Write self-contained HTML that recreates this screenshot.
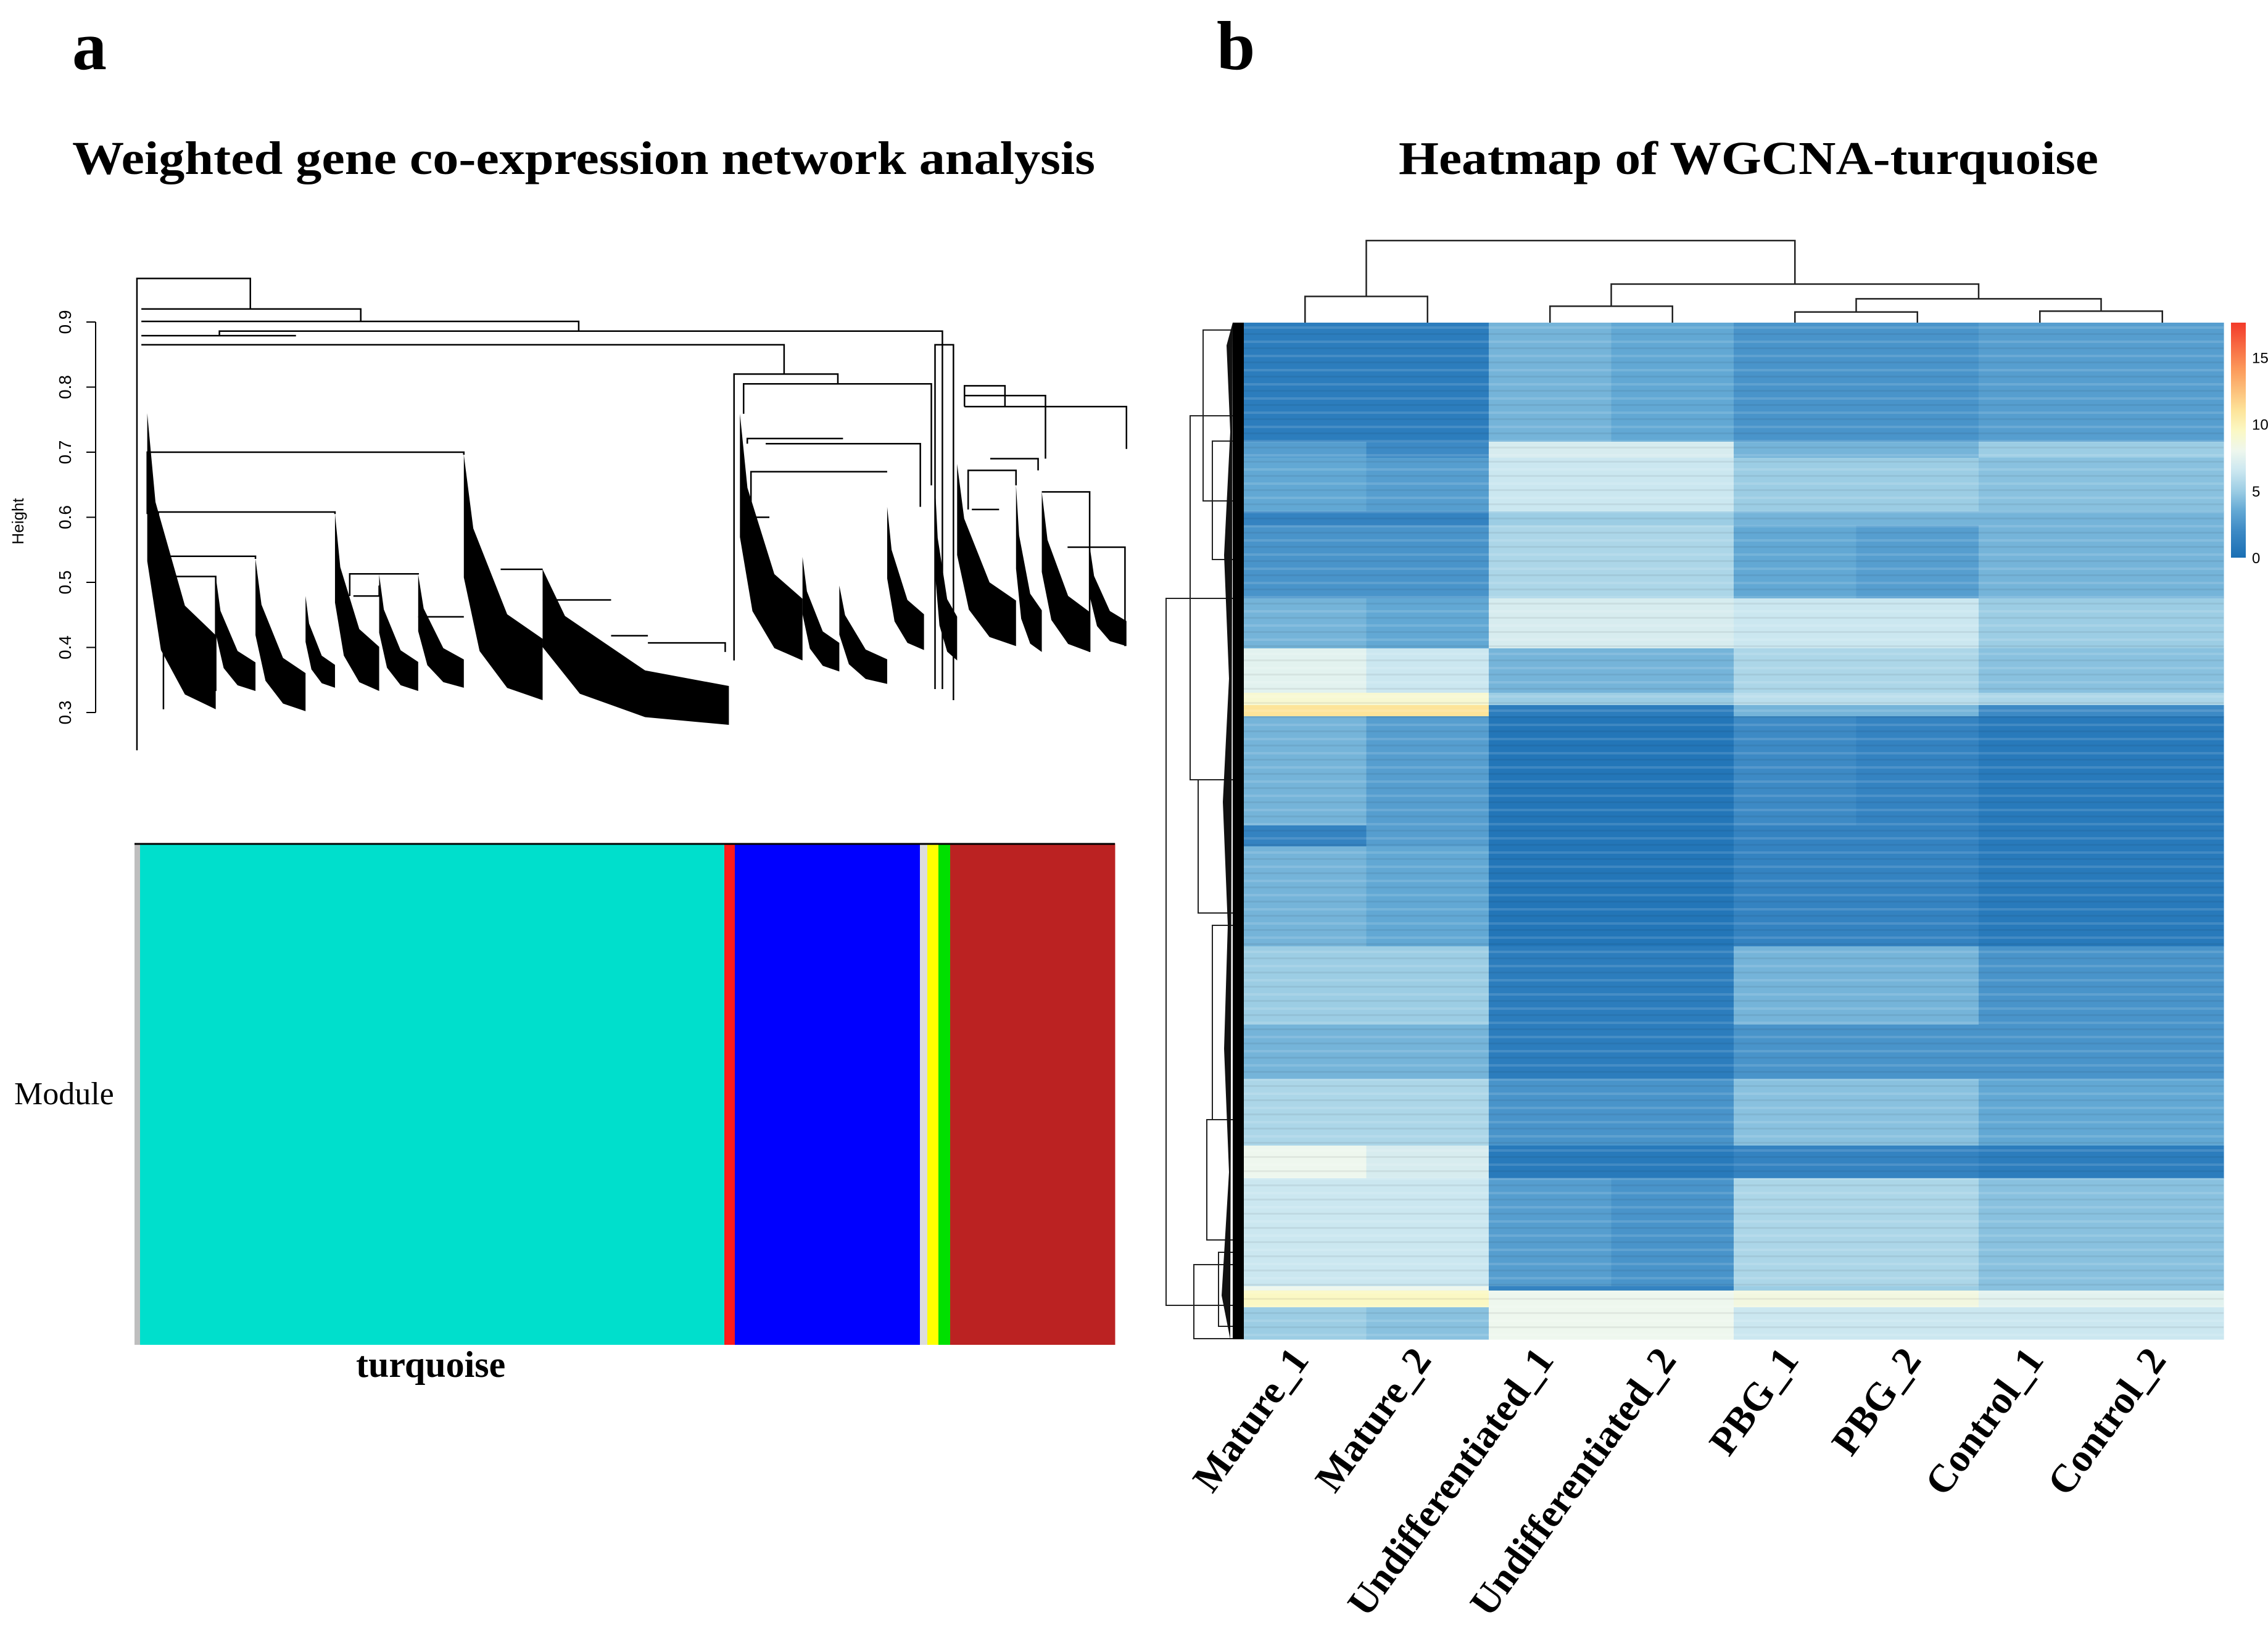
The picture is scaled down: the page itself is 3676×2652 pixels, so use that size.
<!DOCTYPE html>
<html><head><meta charset="utf-8"><style>
html,body{margin:0;padding:0;background:#fff;}
svg{display:block;}
text{font-family:"Liberation Serif",serif;}
.sans{font-family:"Liberation Sans",sans-serif;}
</style></head><body>
<svg id="fig" width="3676" height="2652" viewBox="0 0 3676 2652" xmlns="http://www.w3.org/2000/svg">
<rect width="3676" height="2652" fill="#fff"/>
<text x="117" y="112" font-size="112" font-weight="bold">a</text>
<text x="1972" y="112" font-size="112" font-weight="bold">b</text>
<text x="117" y="282" font-size="76" font-weight="bold" textLength="1658" lengthAdjust="spacingAndGlyphs">Weighted gene co-expression network analysis</text>
<text x="2267" y="282" font-size="76" font-weight="bold" textLength="1134" lengthAdjust="spacingAndGlyphs">Heatmap of WGCNA-turquoise</text>
<g id="dendroA"></g>
<g id="yaxisA"></g>
<g id="modules"></g>
<text x="23" y="1790" font-size="52">Module</text>
<text x="577" y="2232" font-size="60" font-weight="bold">turquoise</text>
<g id="heat"></g>
<g id="coldend"></g>
<g id="rowdend"></g>
<g id="cbar"></g>
<g id="xlabels"></g>
</svg>
<script>
const NS="http://www.w3.org/2000/svg";
const heightTicks=[0.3,0.4,0.5,0.6,0.7,0.8,0.9];
const mergeLeft=[186,192,192,298,192,192,997,1010,1270,1310,1310,1310,200,215,220,222,475,480,568,680,737,830,880,1015,1040,1020,1020,1345,1315,1415,1320,1450];
const mergeRight=[340,490,786,1280,402,1065,1138,1265,1295,1365,1420,1530,630,455,347,293,568,515,630,737,830,880,985,1145,1250,1205,1045,1410,1380,1480,1357,1528];
const mergeH=[0.967,0.920,0.901,0.886,0.879,0.865,0.820,0.805,0.865,0.802,0.787,0.770,0.700,0.608,0.540,0.509,0.513,0.479,0.447,0.520,0.473,0.418,0.407,0.721,0.713,0.670,0.600,0.690,0.672,0.639,0.612,0.554];
const mergeLowL=[0.242,0.920,0.901,0.879,0.879,0.865,0.380,0.759,0.336,0.787,0.770,0.770,0.605,0.540,0.509,0.305,0.479,0.479,0.447,0.520,0.473,0.418,0.407,0.713,0.713,0.600,0.600,0.690,0.612,0.639,0.612,0.554];
const mergeLowR=[0.920,0.901,0.886,0.336,0.879,0.820,0.805,0.649,0.319,0.770,0.690,0.705,0.696,0.605,0.536,0.333,0.512,0.495,0.447,0.520,0.473,0.418,0.393,0.721,0.616,0.670,0.600,0.672,0.649,0.393,0.612,0.402];
const fanStart=[200,293,347,415,455,515,568,630,737,1005,1090,1140,1205,1270,1300,1380,1415,1480];
const fanEnd=[293,347,415,455,515,568,630,737,990,1090,1140,1205,1255,1300,1380,1415,1480,1530];
const fanTop=[0.760,0.509,0.536,0.479,0.605,0.512,0.512,0.696,0.520,0.759,0.539,0.495,0.616,0.649,0.682,0.649,0.639,0.556];
const fanBottom=[0.305,0.333,0.302,0.338,0.333,0.333,0.338,0.319,0.281,0.380,0.363,0.344,0.396,0.380,0.402,0.393,0.393,0.402];
const moduleColors=["#bebebe","#00dfcc","#ff1a1a","#0000ff","#dcdcdc","#ffff00","#00e000","#bb2222"];
const moduleSizes=[9,947,17,300,12,18,19,267];

function yA(h){return 522+(0.9-h)*1055;}
function xA(u){return u/0.838;}
function mk(tag,attrs,parent){const e=document.createElementNS(NS,tag);for(const k in attrs)e.setAttribute(k,attrs[k]);parent.appendChild(e);return e;}

const dA=document.getElementById('dendroA');
for(let i=0;i<mergeLeft.length;i++){
  const x1=xA(mergeLeft[i]),x2=xA(mergeRight[i]),y=yA(mergeH[i]);
  const p=mk('path',{d:`M${x1},${yA(mergeLowL[i])}V${y}H${x2}V${yA(mergeLowR[i])}`,fill:'none',stroke:'#000','stroke-width':2.5},dA);
  
  
}
for(let i=0;i<fanStart.length;i++){
  const x0=xA(fanStart[i]),x1=xA(fanEnd[i]),t=yA(fanTop[i]),b=yA(fanBottom[i]),w=x1-x0,hh=b-t;
  const pts=[[x0,t],[x0+w*0.12,t+hh*0.3],[x0+w*0.55,t+hh*0.65],[x1,b-hh*0.25],[x1,b],[x0+w*0.55,b-hh*0.05],[x0+w*0.2,t+hh*0.8],[x0,t+hh*0.5]];
  const p=mk('polygon',{points:pts.map(q=>q.join(',')).join(' '),fill:'#000'},dA);
  
  
}
const ya=document.getElementById('yaxisA');
mk('line',{x1:155,y1:yA(0.3),x2:155,y2:yA(0.9),stroke:'#000','stroke-width':2},ya);
heightTicks.forEach(h=>{
  mk('line',{x1:140,y1:yA(h),x2:155,y2:yA(h),stroke:'#000','stroke-width':2},ya);
  const t=mk('text',{x:0,y:0,'font-size':28,'text-anchor':'middle',class:'sans',transform:`translate(115,${yA(h)}) rotate(-90)`},ya);
  t.textContent=h.toFixed(1);
  
  
});
const ht=mk('text',{'font-size':26,'text-anchor':'middle',class:'sans',transform:'translate(38,845) rotate(-90)'},ya);
ht.textContent='Height';



const mg=document.getElementById('modules');
const totalGenes=moduleSizes.reduce((a,b)=>a+b,0);
let cx=218;const mW=1807-218;
moduleSizes.forEach((s,i)=>{
  const w=s/totalGenes*mW;
  const r=mk('rect',{x:cx,y:1367,width:w+0.5,height:813,fill:moduleColors[i]},mg);
  
  
  cx+=w;
});
mk('line',{x1:218,y1:1368,x2:1807,y2:1368,stroke:'#000','stroke-width':3},mg);

const samples=["Mature_1","Mature_2","Undifferentiated_1","Undifferentiated_2","PBG_1","PBG_2","Control_1","Control_2"];
const blockGenes=[193,26,87,23,118,81,72,20,18,177,34,162,127,88,108,53,175,7,27,52];
const mature1=[1,3,3.5,1.5,2.5,4,7.5,9,11,4,1.5,4,5,4,5.5,8,6.5,8,9.5,5];
const mature2=[1,2,3,1.5,2.5,3.5,6.5,9,11,3,3,3.5,5,4,5.5,7,6.5,8,9.5,4.5];
const undiff1=[4,7,6.5,5,5.5,7,4,5,1,0.5,0.5,0.5,1,1,2.5,0.8,3,1.5,8,8];
const undiff2=[3.5,7,6.5,5,5.5,7,4,5,1,0.5,0.5,0.5,1,1,2.5,0.8,2.5,1.5,8,8];
const pbg1=[2.5,4,5,4,3.5,6.5,5.5,6,4,2,1.5,1.5,4,2.5,4.5,1.5,5.5,5,8.5,6.5];
const pbg2=[2.5,4,5,4,3,6.5,5.5,6,4,1.5,1.5,1.5,4,2.5,4.5,1.5,5.5,5,8.5,6.5];
const control1=[3,5,4.5,4,4,5,4.5,5.5,2,0.8,0.8,0.8,2.5,2.5,3.5,1,4.5,4.5,7.5,6.5];
const control2=[3,5,4.5,4,4,5,4.5,5.5,2,0.8,0.8,0.8,2.5,2.5,3.5,1,4.5,4.5,7.5,6.5];
const colorTicks=[0,5,10,15];
const colMergeL=[0,2,4,6,4.5,2.5,0.5];
const colMergeR=[1,3,5,7,6.5,5.5,4];
const colMergeH=[0.32,0.20,0.13,0.14,0.29,0.47,1.0];
const colMergeLowL=[0,0,0,0,0.13,0.20,0.32];
const colMergeLowR=[0,0,0,0,0.14,0.29,0.47];

const HX=2016,HW=1588,HY=523,HH=1648,VMAX=17.6;
const colW=HW/samples.length;
function colX(i){return HX+colW*(i+0.5);}
const stops=[[0,[26,111,180]],[2,[61,138,197]],[3.5,[98,168,212]],[5,[156,205,228]],[6.5,[203,231,240]],[8,[238,247,238]],[9.5,[251,248,196]],[11,[253,228,154]],[14,[252,156,92]],[17.6,[243,58,42]]];
function colorOf(v){
  for(let i=1;i<stops.length;i++){if(v<=stops[i][0]){const a=stops[i-1],b=stops[i],t=(v-a[0])/(b[0]-a[0]);return 'rgb('+a[1].map((c,k)=>Math.round(c+(b[1][k]-c)*t)).join(',')+')';}}
  return 'rgb(243,58,42)';
}
const cols=[mature1,mature2,undiff1,undiff2,pbg1,pbg2,control1,control2];
const totalRows=blockGenes.reduce((a,b)=>a+b,0);
function rowY(g){return HY+g/totalRows*HH;}
const hg=document.getElementById('heat');
let g0=0;
blockGenes.forEach((n,bi)=>{
  cols.forEach((arr,ci)=>{
    const r=mk('rect',{x:HX+ci*colW,y:rowY(g0),width:colW+0.6,height:rowY(g0+n)-rowY(g0)+0.6,fill:colorOf(arr[bi])},hg);
    
    
  });
  g0+=n;
});
const defs=mk('defs',{},document.getElementById('fig'));
const pat=mk('pattern',{id:'stripes',width:10,height:23,patternUnits:'userSpaceOnUse'},defs);
mk('rect',{x:0,y:0,width:10,height:4,fill:'#fff','fill-opacity':0.12},pat);
mk('rect',{x:0,y:11,width:10,height:3,fill:'#000','fill-opacity':0.06},pat);
mk('rect',{x:HX,y:HY,width:HW,height:HH,fill:'url(#stripes)'},hg);

const cd=document.getElementById('coldend');
function cy(h){return HY-h*133;}
function cxm(u){return HX+colW*(u+0.5);}
for(let i=0;i<colMergeL.length;i++){
  const p=mk('path',{d:`M${cxm(colMergeL[i])},${cy(colMergeLowL[i])}V${cy(colMergeH[i])}H${cxm(colMergeR[i])}V${cy(colMergeLowR[i])}`,fill:'none',stroke:'#222','stroke-width':2.5},cd);
  
  
}
const rd=document.getElementById('rowdend');
const rowSegs=[[1890,970,2116],[1929,674,1264],[1950,535,812],[1965,715,907],[1942,1264,1480],[1965,1500,1815],[1956,1815,2010],[1975,2030,2150],[1935,2050,2170]];
rowSegs.forEach(s=>{
  const p=mk('path',{d:`M2000,${s[1]}H${s[0]}V${s[2]}H2000`,fill:'none',stroke:'#222','stroke-width':2},rd);
  
  
});
mk('rect',{x:1998,y:HY,width:18,height:HH,fill:'#000'},rd);
mk('path',{d:`M1998,${HY}L1988,560L1994,700L1984,900L1992,1100L1982,1300L1990,1500L1984,1700L1992,1900L1980,2100L1994,${HY+HH}Z`,fill:'#111'},rd);

const cb=document.getElementById('cbar');
const grad=mk('linearGradient',{id:'cgrad',x1:0,y1:1,x2:0,y2:0},defs);
stops.forEach(s=>mk('stop',{offset:s[0]/VMAX,'stop-color':colorOf(s[0])},grad));
mk('rect',{x:3616,y:523,width:24,height:381,fill:'url(#cgrad)'},cb);
colorTicks.forEach(v=>{
  const y=904-v/VMAX*381;
  const t=mk('text',{x:3650,y:y+9,'font-size':24,class:'sans'},cb);
  t.textContent=v;
  
  
});
const xl=document.getElementById('xlabels');
samples.forEach((s,i)=>{
  const t=mk('text',{'font-size':64,'font-weight':'bold','text-anchor':'end',transform:`translate(${colX(i)+8},2205) rotate(-54)`},xl);
  t.textContent=s;
  
  
});
</script>
</body></html>
